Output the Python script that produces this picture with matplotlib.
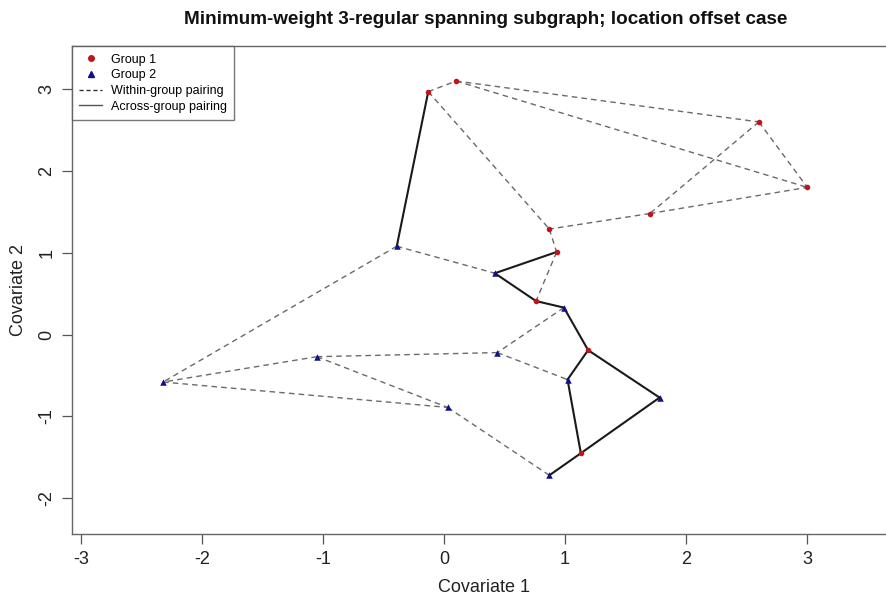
import matplotlib
matplotlib.use("Agg")
import matplotlib.pyplot as plt
from matplotlib.lines import Line2D

plt.rcParams['font.family'] = ['Liberation Sans', 'DejaVu Sans']

# Group 1 points (red circles)
g1_x = [-0.13, 0.10, 2.60, 3.00, 1.70, 0.87, 0.93, 0.76, 1.19, 1.13]
g1_y = [2.97, 3.10, 2.60, 1.80, 1.48, 1.29, 1.01, 0.41, -0.19, -1.45]
# Group 2 points (blue triangles)
g2_x = [-0.39, 0.42, 0.99, 0.44, 1.02, 1.78, -1.05, -2.32, 0.03, 0.87]
g2_y = [1.08, 0.75, 0.33, -0.22, -0.55, -0.77, -0.27, -0.58, -0.89, -1.72]

# Within-group edges (indices into the same group)
within_g1 = [(0, 1), (1, 2), (1, 3), (0, 5), (2, 3), (2, 4), (4, 3), (4, 5), (5, 6), (6, 7)]
within_g2 = [(0, 1), (0, 7), (2, 3), (3, 6), (3, 4), (6, 7), (6, 8), (7, 8), (8, 9)]
# Across-group edges (group1 index, group2 index)
across = [(0, 0), (6, 1), (7, 1), (7, 2), (8, 2), (8, 4), (8, 5), (9, 4), (9, 5), (9, 9)]

W, H = 887, 597
fig = plt.figure(figsize=(W / 100, H / 100), dpi=100)
L, R, T, B = 72, 895, 46, 534
ax = fig.add_axes([L / W, 1 - B / H, (R - L) / W, (B - T) / H])

dash_col = '#6a6a6a'
solid_col = '#1a1a1a'
for i, j in within_g1:
    ax.plot([g1_x[i], g1_x[j]], [g1_y[i], g1_y[j]], ls=(0, (4, 3)), color=dash_col, lw=1.0, zorder=1)
for i, j in within_g2:
    ax.plot([g2_x[i], g2_x[j]], [g2_y[i], g2_y[j]], ls=(0, (4, 3)), color=dash_col, lw=1.0, zorder=1)
for i, j in across:
    ax.plot([g1_x[i], g2_x[j]], [g1_y[i], g2_y[j]], ls='-', color=solid_col, lw=1.5, zorder=1)

ax.scatter(g1_x, g1_y, marker='o', s=16, color='#c0141c', zorder=3, linewidths=0)
ax.scatter(g2_x, g2_y, marker='^', s=22, color='#10108a', zorder=3, linewidths=0)

ax.set_xlim((L - 444) / 121.1, (R - 444) / 121.1)
ax.set_ylim((334.6 - B) / 81.8, (334.6 - T) / 81.8)
ax.set_xticks([-3, -2, -1, 0, 1, 2, 3])
ax.set_yticks([-2, -1, 0, 1, 2, 3])
ax.set_yticklabels(['-2', '-1', '0', '1', '2', '3'], rotation=90, va='center')
ax.set_xticklabels(['-3', '-2', '-1', '0', '1', '2', '3'])
ax.tick_params(direction='out', length=7, width=0.9, color='#555555', labelsize=13,
               labelcolor='#222222', pad=5)
for sp in ax.spines.values():
    sp.set_color('#666666')
    sp.set_linewidth(1.0)

ax.set_xlabel('Covariate 1', fontsize=13, color='#222222', labelpad=8)
ax.set_ylabel('Covariate 2', fontsize=13, color='#222222', labelpad=8)
fig.text(486 / W, 1 - 19 / H, 'Minimum-weight 3-regular spanning subgraph; location offset case',
         ha='center', va='center', fontsize=13.6, fontweight='bold', color='#111111')

handles = [
    Line2D([], [], ls='none', marker='o', ms=4, color='#c0141c'),
    Line2D([], [], ls='none', marker='^', ms=5, color='#10108a'),
    Line2D([], [], ls=(0, (3, 2)), color='#333333', lw=1.0),
    Line2D([], [], ls='-', color='#555555', lw=1.0),
]
labels = ['Group 1', 'Group 2', 'Within-group pairing', 'Across-group pairing']
leg = ax.legend(handles, labels, loc='upper left', bbox_to_anchor=(0, 1), borderaxespad=0,
                fontsize=9, frameon=True, fancybox=False, handlelength=1.8,
                handletextpad=0.7, labelspacing=0.3, borderpad=0.6)
leg.get_frame().set_edgecolor('#555555')
leg.get_frame().set_linewidth(1.0)

fig.savefig('out.png', dpi=100)
